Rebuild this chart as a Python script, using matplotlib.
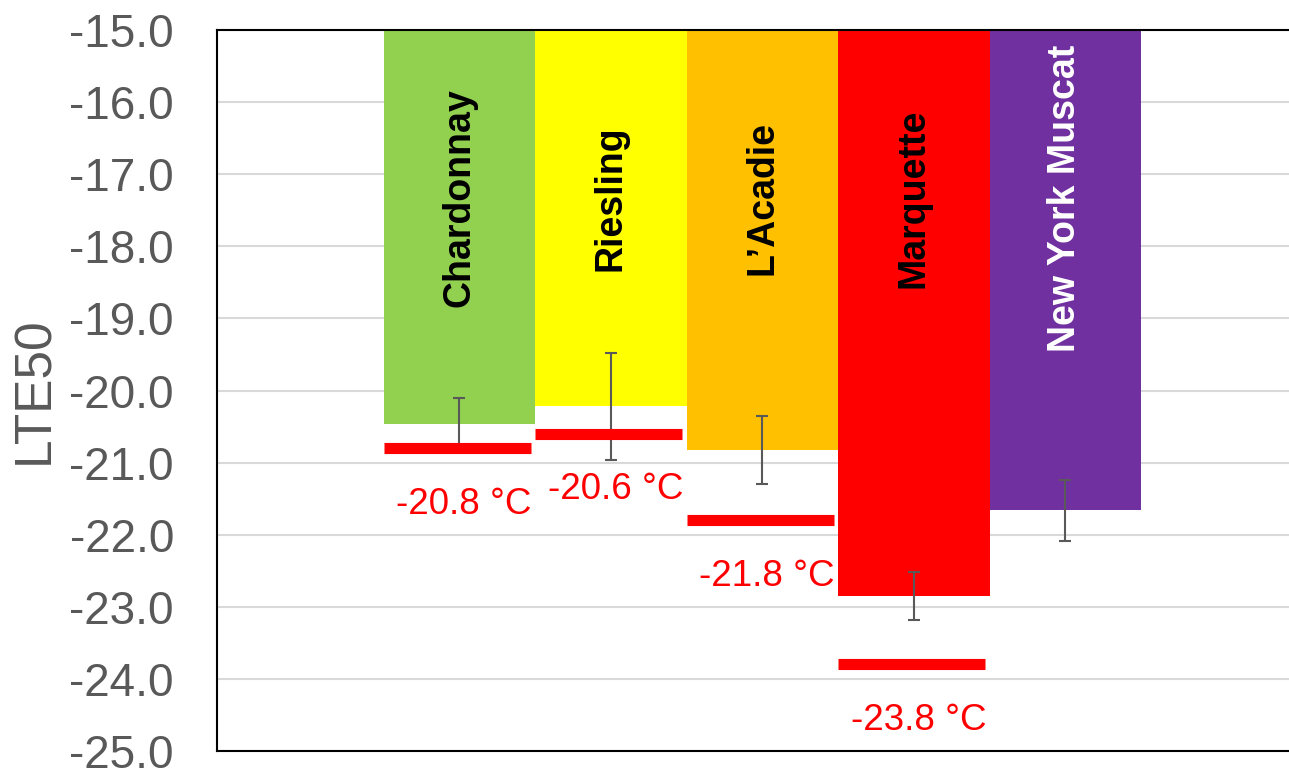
import numpy as np
import matplotlib
matplotlib.use("Agg")
import matplotlib.pyplot as plt

plt.rcParams["font.family"] = ["Liberation Sans", "DejaVu Sans"]

# 品种、LTE50 均值、误差、颜色
cultivars = ["Chardonnay", "Riesling", "L\u2019Acadie", "Marquette", "New York Muscat"]
lte50 = [-20.46, -20.22, -20.83, -22.85, -21.66]
lte50_err = [0.35, 0.74, 0.47, 0.335, 0.425]
bar_colors = ["#92D050", "#FFFF00", "#FFC000", "#FF0000", "#7030A0"]
name_colors = ["black", "black", "black", "black", "white"]

# 各品种的最低气温（红线），最后一个品种没有
min_temp = [-20.8, -20.6, -21.8, -23.8]

y_top, y_bottom = -15.0, -25.0
yticks = np.arange(-15.0, -25.5, -1.0)

fig = plt.figure(figsize=(12.89, 7.72), dpi=100)
ax = fig.add_axes([217 / 1289, 1 - 751 / 772, 1 - 217 / 1289, (751 - 30) / 772])

x = np.arange(len(cultivars)) + 1.6
width = 1.0

# 柱子从 -15 往下画
ax.bar(x, np.array(lte50) - y_top, bottom=y_top, width=width,
       color=bar_colors, zorder=2)
ax.errorbar(x, lte50, yerr=lte50_err, fmt="none", ecolor="#595959",
            elinewidth=1.5, capsize=4.5, capthick=1.5, zorder=3)

# 最低气温红线与标注
for xi, t in zip(x, min_temp):
    left = xi - width / 2
    ax.plot([left, left + 0.97], [t, t], color="#FF0000", lw=8,
            solid_capstyle="butt", zorder=4)
    ax.text(left + 0.485 + 0.046, t - 0.775, f"{t:.1f} \u00b0C",
            color="#FF0000", fontsize=26.5, ha="center", va="center", zorder=5)

# 柱内竖排品种名
for xi, name, c in zip(x, cultivars, name_colors):
    ax.text(xi, -17.33, name, rotation=90, ha="center", va="center",
            fontsize=27, fontweight="bold", color=c, zorder=5)

ax.set_ylim(y_bottom, y_top)
ax.set_xlim(0, (1289 - 217) / 151.5)
ax.set_yticks(yticks)
ax.set_yticklabels([f"{v:.1f}" for v in yticks])
ax.tick_params(axis="y", length=0, pad=31, labelsize=33, labelcolor="#595959")
ax.set_xticks([])
ax.yaxis.grid(True, color="#D9D9D9", lw=1.5, zorder=0)
ax.set_axisbelow(True)

for side in ["left", "top", "bottom"]:
    ax.spines[side].set_color("black")
    ax.spines[side].set_linewidth(1.5)
ax.spines["right"].set_visible(False)

ax.set_ylabel("LTE50", fontsize=37, color="#595959")
ax.yaxis.set_label_coords(-0.147, 0.5)

fig.savefig("out.png", dpi=100)
